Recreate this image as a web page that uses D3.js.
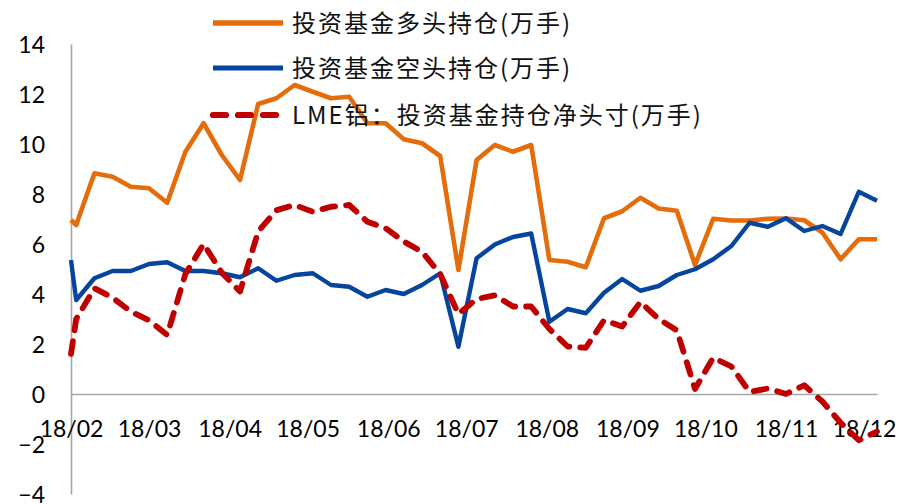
<!DOCTYPE html>
<html>
<head>
<meta charset="utf-8">
<script src="https://cdn.jsdelivr.net/npm/d3@7"></script>
<style>
  html, body { margin: 0; padding: 0; background: #ffffff; }
  svg { display: block; }
</style>
</head>
<body>
<div id="chart"></div>
<script>
// ---- data ----
const dates = [
  "2018-01-30","2018-02-01","2018-02-08","2018-02-15","2018-02-22",
  "2018-03-01","2018-03-08","2018-03-15","2018-03-22","2018-03-29",
  "2018-04-05","2018-04-12","2018-04-19","2018-04-26",
  "2018-05-03","2018-05-10","2018-05-17","2018-05-24","2018-05-31",
  "2018-06-07","2018-06-14","2018-06-21","2018-06-28",
  "2018-07-05","2018-07-12","2018-07-19","2018-07-26",
  "2018-08-02","2018-08-09","2018-08-16","2018-08-23","2018-08-30",
  "2018-09-06","2018-09-13","2018-09-20","2018-09-27",
  "2018-10-04","2018-10-11","2018-10-18","2018-10-25",
  "2018-11-01","2018-11-08","2018-11-15","2018-11-22","2018-11-29",
  "2018-12-06"
];
// 投资基金多头持仓(万手)
const longPos = [
  6.96, 6.76, 8.83, 8.69, 8.29, 8.23, 7.65, 9.69, 10.83, 9.56,
  8.56, 11.60, 11.83, 12.36, 12.09, 11.83, 11.89, 10.83, 10.83, 10.19,
  10.03, 9.52, 4.96, 9.36, 9.96, 9.69, 9.96, 5.36, 5.29, 5.07,
  7.03, 7.31, 7.85, 7.42, 7.33, 5.16, 7.01, 6.94, 6.94, 7.01,
  7.02, 6.95, 6.46, 5.39, 6.19, 6.19
];
// 投资基金空头持仓(万手)
const shortPos = [
  5.36, 3.76, 4.63, 4.92, 4.92, 5.20, 5.27, 4.92, 4.92, 4.83,
  4.67, 5.03, 4.53, 4.76, 4.83, 4.36, 4.29, 3.89, 4.16, 4.00,
  4.36, 4.83, 1.89, 5.43, 5.98, 6.28, 6.42, 2.89, 3.40, 3.23,
  4.05, 4.60, 4.13, 4.32, 4.76, 4.99, 5.39, 5.92, 6.85, 6.69,
  7.03, 6.52, 6.72, 6.40, 8.09, 7.73
];
// LME铝：投资基金持仓净头寸(万手)
const netPos = [
  1.60, 3.00, 4.23, 3.85, 3.30, 2.95, 2.36, 4.80, 6.00, 4.85,
  4.10, 6.50, 7.35, 7.56, 7.29, 7.49, 7.56, 6.89, 6.63, 6.10,
  5.69, 4.80, 3.20, 3.80, 3.95, 3.50, 3.50, 2.60, 1.90, 1.85,
  2.95, 2.70, 3.68, 3.00, 2.55, 0.20, 1.45, 1.10, 0.08, 0.22,
  0.00, 0.35, -0.30, -1.15, -1.85, -1.50
];
const yTicks = [14, 12, 10, 8, 6, 4, 2, 0, -2, -4];
const xTickDates = ["2018-01-30","2018-03-01","2018-04-01","2018-05-01","2018-06-01","2018-07-01",
                    "2018-08-01","2018-09-01","2018-10-01","2018-11-01","2018-12-01"];
const xTickLabels = ["18/02","18/03","18/04","18/05","18/06","18/07",
                     "18/08","18/09","18/10","18/11","18/12"];
const seriesNames = ["投资基金多头持仓(万手)", "投资基金空头持仓(万手)", "LME铝：投资基金持仓净头寸(万手)"];

// ---- layout ----
const W = 904, H = 504;
const parse = d3.timeParse("%Y-%m-%d");
const dts = dates.map(parse);

const svg = d3.select("#chart").append("svg")
  .attr("width", W).attr("height", H)
  .attr("viewBox", `0 0 ${W} ${H}`);

const x = d3.scaleTime().domain([dts[0], dts[dts.length - 1]]).range([71, 877]);
const y = d3.scaleLinear().domain([-4, 14]).range([494, 44]);

const axisColor = "#a6a6a6";
const labelFont = "Lato, 'Liberation Sans', sans-serif";

// y axis
const yAxis = svg.append("g").attr("transform", `translate(${x.range()[0]},0)`)
  .call(d3.axisLeft(y).tickValues(yTicks).tickSize(0).tickSizeOuter(0).tickPadding(26));
yAxis.select(".domain").attr("stroke", axisColor).attr("stroke-width", 1.6);
yAxis.selectAll("text")
  .attr("font-family", labelFont).attr("font-size", 23).attr("fill", "#000")
  .attr("dy", "0.36em");

// x axis at zero line
const xAxis = svg.append("g").attr("transform", `translate(0,${y(0)})`)
  .call(d3.axisBottom(x).tickValues(xTickDates.map(parse))
        .tickFormat((d, i) => xTickLabels[i]).tickSize(0).tickSizeOuter(0));
xAxis.select(".domain").attr("stroke", axisColor).attr("stroke-width", 1.6);
xAxis.selectAll("text")
  .attr("font-family", labelFont).attr("font-size", 23).attr("fill", "#000")
  .attr("y", 42.5).attr("dy", 0);

// lines
const line = vals => d3.line()
  .x((d, i) => x(dts[i]))
  .y(d => y(d))(vals);

const colors = ["#e46c0a", "#06459e", "#c00000"];

svg.append("path").attr("d", line(longPos))
  .attr("fill", "none").attr("stroke", colors[0]).attr("stroke-width", 4.6)
  .attr("stroke-linejoin", "round");
svg.append("path").attr("d", line(shortPos))
  .attr("fill", "none").attr("stroke", colors[1]).attr("stroke-width", 4.4)
  .attr("stroke-linejoin", "round");
svg.append("path").attr("d", line(netPos))
  .attr("fill", "none").attr("stroke", colors[2]).attr("stroke-width", 5.8)
  .attr("stroke-linejoin", "round").attr("stroke-linecap", "round")
  .attr("stroke-dasharray", "13,11");

// legend
const legendRows = [
  { y: 23, x1: 213, x2: 283, color: colors[0], w: 5.6, dash: null },
  { y: 68, x1: 213, x2: 283, color: colors[1], w: 5.2, dash: null },
  { y: 115, x1: 213, x2: 278, color: colors[2], w: 6.2, dash: "13,12" }
];
const lg = svg.append("g");
legendRows.forEach((r, i) => {
  const l = lg.append("line")
    .attr("x1", r.x1).attr("x2", r.x2).attr("y1", r.y).attr("y2", r.y)
    .attr("stroke", r.color).attr("stroke-width", r.w);
  if (r.dash) l.attr("stroke-dasharray", r.dash).attr("stroke-linecap", "round");
  lg.append("text")
    .attr("x", 292).attr("y", r.y)
    .attr("dy", "0.36em")
    .attr("font-family", "'Noto Sans CJK SC', 'Noto Sans', sans-serif")
    .attr("font-size", 24).attr("letter-spacing", "2px")
    .attr("fill", "#111")
    .text(seriesNames[i]);
});
</script>
</body>
</html>
